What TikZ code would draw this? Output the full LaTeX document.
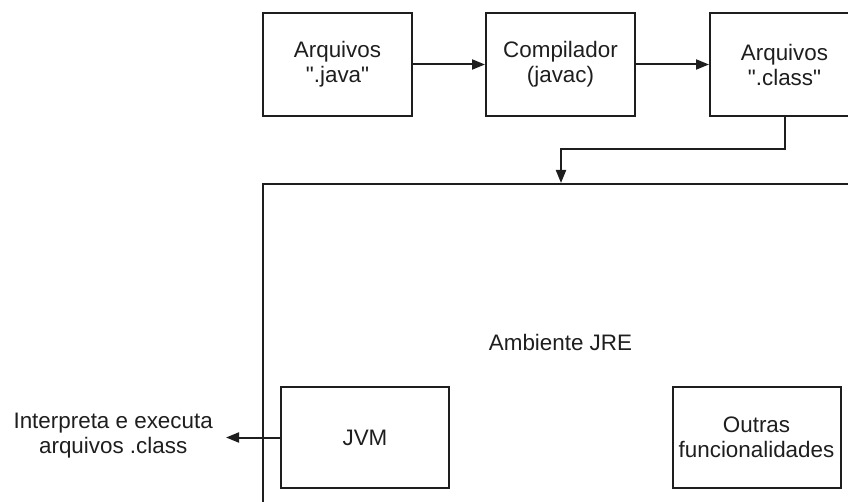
\documentclass[tikz,border=0pt]{standalone}
\usepackage{fontspec}
\setmainfont{Liberation Sans}[Ligatures=TeXOff]
\usetikzlibrary{arrows.meta}
\definecolor{ink}{HTML}{1E1E1E}
\begin{document}
\begin{tikzpicture}[x=1pt,y=-1pt,
  every node/.style={text=ink, font=\fontsize{22.4}{25}\selectfont, align=center},
  stagebox/.style={draw=ink, line width=2pt, minimum width=149pt, minimum height=103pt, inner sep=0pt},
  innerbox/.style={draw=ink, line width=2pt, minimum width=168pt, minimum height=101pt, inner sep=0pt},
  arr/.style={draw=ink, line width=2pt, -{Triangle[length=13pt,width=10pt]}}]
  \useasboundingbox (0,0) rectangle (848,502);
  \clip (0,0) rectangle (848,502);

  % compilation pipeline
  \node[stagebox] (src) at (337.5,64.5) {Arquivos\\".java"};
  \node[stagebox] (javac) at (560.5,64.5) {Compilador\\(javac)};
  \node[stagebox] (cls) at (784.5,64.5) {Arquivos\\".class"};

  % runtime environment
  \node[draw=ink, line width=2pt, anchor=north west, minimum width=620pt, minimum height=360pt, inner sep=0pt] (jre) at (262,183) {};
  \node (jrelabel) at (560.5,342) {Ambiente JRE};
  \node[innerbox] (jvm) at (365,437.5) {JVM};
  \node[innerbox] (other) at (756.5,437.5) {Outras\\funcionalidades};
  \node[anchor=east, inner sep=0pt, inner xsep=13pt] (interp) at (226,436) {Interpreta e executa\\arquivos .class};

  % connectors
  \draw[arr] (src.east) -- (javac.west);
  \draw[arr] (javac.east) -- (cls.west);
  \coordinate (elbow) at (561,149);
  \draw[arr] (cls.south) |- (elbow) -- (elbow |- jre.north);
  \draw[arr] (jvm.west) -- (jvm.west -| interp.east);
\end{tikzpicture}
\end{document}
